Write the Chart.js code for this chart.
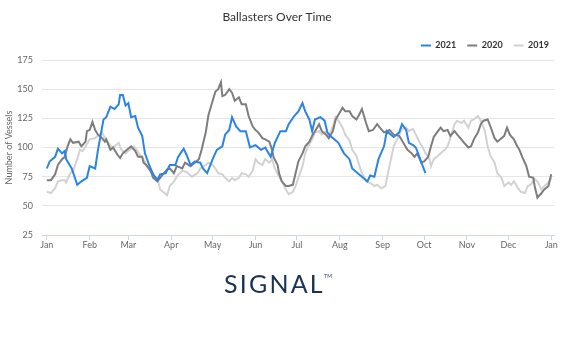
<!DOCTYPE html>
<html>
<head>
<meta charset="utf-8">
<title>Ballasters Over Time</title>
<script src="https://cdn.jsdelivr.net/npm/chart.js@4/dist/chart.umd.min.js"></script>
<style>
  html, body { margin: 0; padding: 0; background: #fff; }
  #wrap { position: relative; width: 576px; height: 338px; }
  #logo {
    position: absolute; left: 224px; top: 268px;
    font-family: Lato, sans-serif; font-size: 25px; letter-spacing: 2.2px;
    color: #1b3353; line-height: 30px;
  }
  #logo span { position: absolute; right: -7px; top: 5px; font-size: 5px; letter-spacing: 0; line-height: 6px; }
</style>
</head>
<body>
<div id="wrap">
  <canvas id="chart" width="576" height="338"></canvas>
  <div id="logo">SIGNAL<span>TM</span></div>
</div>
<script>
// month starts (day of year) and their labels
const monthDays = [0, 31, 59, 90, 120, 151, 181, 212, 243, 273, 304, 334, 365];
const monthLabels = ['Jan', 'Feb', 'Mar', 'Apr', 'May', 'Jun', 'Jul', 'Aug', 'Sep', 'Oct', 'Nov', 'Dec', 'Jan'];
const yTicks = [25, 50, 75, 100, 125, 150, 175];

// 2021 (runs to the start of October)
const days2021 = [0,2,6,8,11,13,14,18,22,25,29,31,35,37,41,43,46,49,52,53,55,57,59,61,64,66,69,71,74,77,
  80,82,86,89,93,95,99,101,104,107,111,113,116,120,123,127,129,132,134,137,140,144,147,151,155,158,162,165,169,173,
  175,179,182,185,187,190,192,194,198,201,203,205,208,211,215,219,221,225,228,232,234,237,240,244,246,249,251,255,257,260,
  262,265,267,269,272,274];
const vals2021 = [82,88,92,99,95,97,90,82,68,71,74,84,82,98,124,126,135,133,137,145,145,136,138,126,127,117,110,95,85,77,
  72,77,78,85,85,92,99,94,85,88,87,82,78,90,98,101,111,115,126,118,114,114,100,102,98,100,92,104,114,114,
  120,127,131,138,131,124,114,124,126,123,113,110,107,104,95,90,82,78,75,71,76,75,90,101,114,111,109,113,120,115,
  104,102,100,94,84,78];

// 2020
const days2020 = [0,3,6,8,11,13,15,17,19,23,25,28,29,31,33,35,37,40,42,43,46,48,51,53,55,58,61,64,66,69,
  70,72,75,77,80,82,84,87,89,92,94,98,100,104,107,110,112,115,117,120,122,124,126,127,129,132,134,136,139,141,
  144,146,149,151,153,156,158,161,163,164,167,168,170,173,175,178,180,182,185,187,190,192,194,197,199,202,204,207,209,211,
  214,216,219,221,224,226,228,231,233,236,239,241,244,248,251,255,259,261,264,266,268,271,273,276,278,280,283,285,287,290,
  292,295,297,300,302,305,307,309,312,314,316,319,321,324,326,329,331,333,335,338,340,342,344,347,349,352,353,355,358,360,
  363,365];
const vals2020 = [72,72,77,85,90,92,101,107,104,105,101,105,114,115,122,115,111,108,105,107,98,100,94,91,95,98,101,97,92,92,
  87,85,80,74,71,74,77,81,82,78,84,82,87,84,87,90,98,113,128,140,148,150,156,144,145,150,147,140,143,137,
  137,127,118,115,113,108,107,105,98,92,85,78,71,67,67,68,78,88,95,101,105,110,114,120,114,111,108,114,124,128,
  134,131,131,127,124,128,133,121,114,115,120,117,113,115,111,110,102,98,95,92,95,87,88,92,101,109,114,117,114,115,
  110,114,111,107,104,100,101,107,113,120,123,124,118,108,105,108,110,117,111,107,102,98,92,84,75,74,67,57,61,64,
  67,77];

// 2019
const days2019 = [0,3,6,8,11,13,14,17,19,22,24,26,29,31,35,37,40,42,44,47,49,52,54,57,59,63,65,67,70,72,
  75,77,80,82,84,87,89,92,94,98,101,105,109,111,115,117,120,122,124,127,129,132,134,136,139,141,144,146,149,151,
  153,156,158,161,163,165,168,170,173,175,178,180,182,185,187,190,192,194,197,199,202,204,207,209,211,214,216,219,221,224,
  226,228,231,233,236,237,239,242,245,246,249,251,254,257,260,262,265,267,269,272,274,277,278,280,283,285,288,290,292,295,
  297,300,302,305,307,309,312,314,317,319,321,324,326,329,331,334,336,338,341,343,346,348,350,353,355,358,360,363,365];
const vals2019 = [62,61,65,71,72,72,70,78,80,90,98,97,103,107,108,110,113,108,105,100,101,104,98,95,97,101,98,94,90,84,
  81,75,74,64,62,59,67,71,75,80,79,75,78,82,85,87,85,82,78,77,74,71,74,72,74,78,77,75,80,90,
  87,85,90,87,90,82,75,71,64,60,62,67,74,84,95,103,107,113,114,111,114,110,118,126,123,117,111,106,98,93,
  85,78,71,70,68,67,68,65,67,73,90,101,108,116,117,114,116,111,106,100,95,90,84,90,93,95,98,101,108,120,
  123,121,123,117,123,124,127,123,114,101,93,87,78,74,67,70,68,71,65,62,61,67,68,73,71,64,67,70,74];

const toPoints = (days, vals) => days.map((d, i) => ({ x: d, y: vals[i] }));

function series(label, days, vals, color) {
  return {
    label,
    data: toPoints(days, vals),
    borderColor: color,
    backgroundColor: color,
    borderWidth: 2,
    pointRadius: 0,
    tension: 0
  };
}

// nudge the legend so its last label ends near the plot's right edge
const legendShift = {
  id: 'legendShift',
  afterLayout(chart) {
    chart.legend.right += 6;
  }
};

const font = 'Lato, sans-serif';

new Chart(document.getElementById('chart'), {
  type: 'line',
  data: {
    datasets: [
      series('2021', days2021, vals2021, '#2b83e6'),
      series('2020', days2020, vals2020, '#7d7d7d'),
      series('2019', days2019, vals2019, '#d2d2d2')
    ]
  },
  options: {
    responsive: false,
    animation: false,
    layout: { padding: { top: 0, right: 22, bottom: 83, left: 0 } },
    plugins: {
      title: {
        display: true,
        text: 'Ballasters Over Time',
        color: '#333',
        font: { family: font, size: 12, weight: 'normal' },
        padding: { top: 10, bottom: 5.6 }
      },
      legend: {
        position: 'top',
        align: 'end',
        labels: {
          color: '#333',
          font: { family: font, size: 9, weight: 'bold' },
          usePointStyle: true,
          pointStyle: 'line',
          pointStyleWidth: 10,
          boxWidth: 10,
          padding: 11
        }
      },
      tooltip: { enabled: false }
    },
    scales: {
      x: {
        type: 'linear',
        min: -3.5,
        max: 367,
        afterBuildTicks: s => { s.ticks = monthDays.map(v => ({ value: v })); },
        afterFit: s => { s.height = 20; },
        ticks: {
          autoSkip: false,
          maxRotation: 0,
          padding: 0,
          color: '#666',
          font: { family: font, size: 9 },
          callback: v => monthLabels[monthDays.indexOf(v)]
        },
        grid: { drawOnChartArea: false, drawTicks: true, tickLength: 5, color: '#ccd6eb' },
        border: { color: '#ccd6eb' }
      },
      y: {
        min: 25,
        max: 175,
        afterBuildTicks: s => { s.ticks = yTicks.map(v => ({ value: v })); },
        afterFit: s => { s.width = 42; },
        title: {
          display: true,
          text: 'Number of Vessels',
          color: '#666',
          font: { family: font, size: 9 }
        },
        ticks: { padding: 9, color: '#666', font: { family: font, size: 9 } },
        grid: { color: '#e6e6e6', drawTicks: false },
        border: { display: false }
      }
    }
  },
  plugins: [legendShift]
});
</script>
</body>
</html>
